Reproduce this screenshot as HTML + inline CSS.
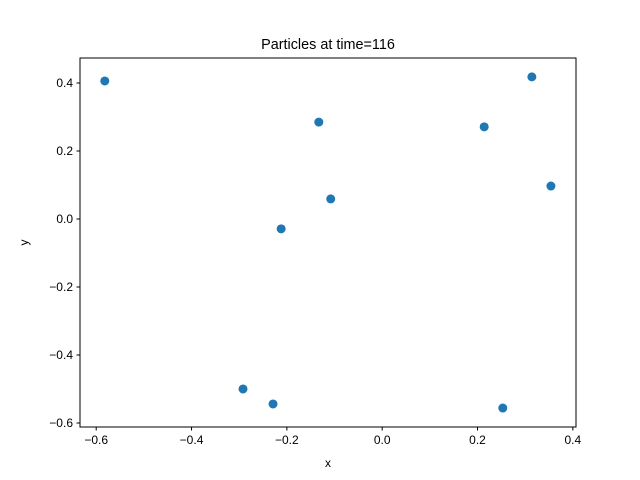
<!DOCTYPE html>
<html><head><meta charset="utf-8"><style>
body{margin:0;background:#fff;}
svg{display:block;font-family:"Liberation Sans","DejaVu Sans",sans-serif;}
</style></head><body>
<svg id="chart" width="640" height="480"></svg>
<script>
const xVals=[-0.582,-0.133,-0.108,-0.212,-0.292,-0.229,0.214,0.314,0.354,0.253];
const yVals=[0.406,0.285,0.059,-0.029,-0.500,-0.544,0.271,0.418,0.097,-0.556];
const xTicks=[-0.6,-0.4,-0.2,0.0,0.2,0.4];
const yTicks=[-0.6,-0.4,-0.2,0.0,0.2,0.4];
const titleText="Particles at time=116";
const NS="http://www.w3.org/2000/svg";
const svg=document.getElementById('chart');
const L=80,R=576,T=58,B=427;
const xMin=-0.634,xMax=0.4066,yMin=-0.6118,yMax=0.4735;
function sx(v){return L+(v-xMin)/(xMax-xMin)*(R-L);}
function sy(v){return B-(v-yMin)/(yMax-yMin)*(B-T);}
function mk(t,a){const e=document.createElementNS(NS,t);for(const k in a)e.setAttribute(k,a[k]);svg.appendChild(e);return e;}
function fmt(v){return (v<0?"\u2212":"")+Math.abs(v).toFixed(1);}
xVals.forEach((x,i)=>{
 const c=mk('circle',{cx:sx(x),cy:sy(yVals[i]),r:4.5,fill:'#1f77b4'});
 
 
});
const frame=mk('rect',{x:L,y:T,width:R-L,height:B-T,fill:'none',stroke:'#000','stroke-width':1});


xTicks.forEach(v=>{
 const x=sx(v);
 mk('line',{x1:x,x2:x,y1:B,y2:B+3.5,stroke:'#000'});
 const t=mk('text',{x:x,y:B+17,'font-size':12,'text-anchor':'middle'});t.textContent=fmt(v);
 
 
});
yTicks.forEach(v=>{
 const y=sy(v);
 mk('line',{x1:L-3.5,x2:L,y1:y,y2:y,stroke:'#000'});
 const t=mk('text',{x:L-7,y:y+4,'font-size':12,'text-anchor':'end'});t.textContent=fmt(v);
 
 
});
const xl=mk('text',{x:(L+R)/2,y:467,'font-size':12,'text-anchor':'middle'});xl.textContent='x';


const yl=mk('text',{x:0,y:0,'font-size':12,'text-anchor':'middle',transform:'translate(28,'+((T+B)/2)+') rotate(-90)'});yl.textContent='y';


const tt=mk('text',{x:(L+R)/2,y:49,'font-size':14.4,'text-anchor':'middle'});tt.textContent=titleText;


</script>
</body></html>
